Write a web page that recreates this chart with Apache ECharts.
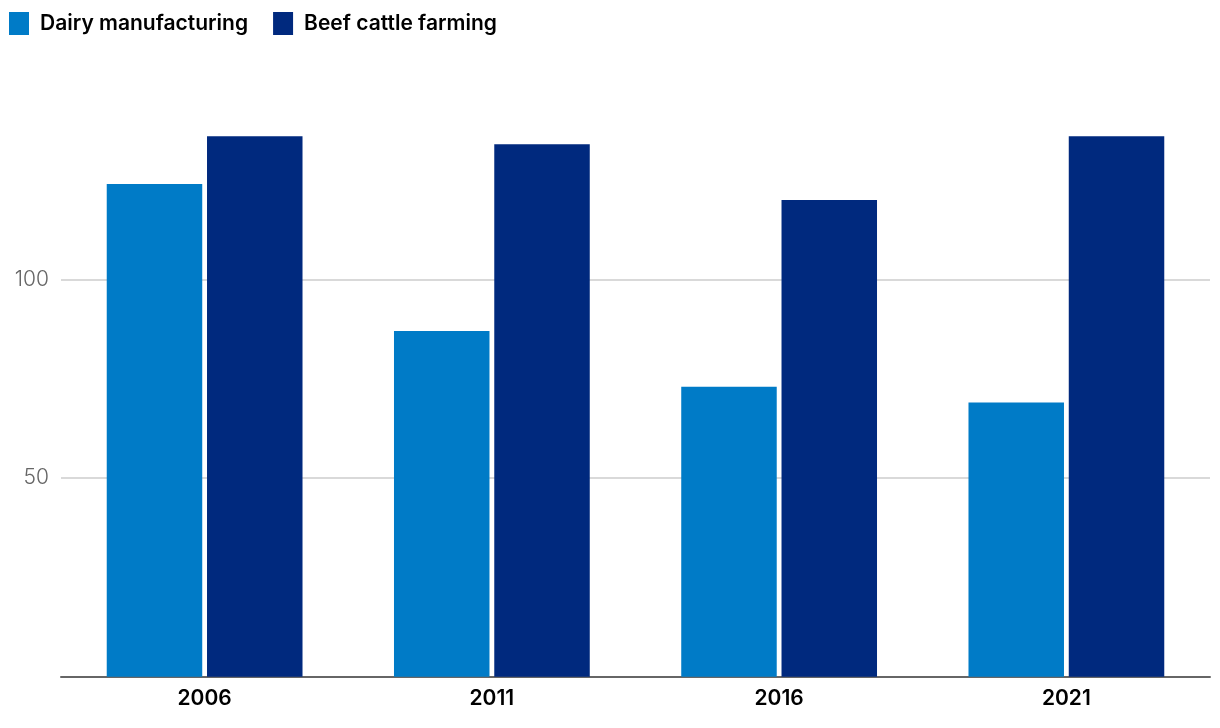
<!DOCTYPE html>
<html>
<head>
<meta charset="utf-8">
<script src="https://cdn.jsdelivr.net/npm/echarts@6/dist/echarts.min.js"></script>
<style>
html,body{margin:0;padding:0;background:#fff;}
#chart{width:1220px;height:728px;}
</style>
</head>
<body>
<div id="chart"></div>
<script>
const categories = ['2006', '2011', '2016', '2021'];
const seriesNames = ['Dairy manufacturing', 'Beef cattle farming'];
const dairyValues = [124, 87, 73, 69];
const beefValues = [136, 134, 120, 136];
const yTicks = [0, 50, 100, 150];

const chart = echarts.init(document.getElementById('chart'));
chart.setOption({
  animation: false,
  textStyle: { fontFamily: 'Inter' },
  legend: {
    left: 9, top: 12, padding: 0,
    itemWidth: 20, itemHeight: 23,
    itemGap: 25,
    icon: 'rect',
    textStyle: { fontFamily: 'Inter', fontSize: 21, fontWeight: 600, color: '#000', padding: [0, 0, 0, 6] },
    data: seriesNames
  },
  grid: { left: 61, right: 10, top: 80.7, bottom: 51.3, containLabel: false },
  xAxis: {
    type: 'category',
    data: categories,
    axisLine: { lineStyle: { color: '#666', width: 2 } },
    axisTick: { show: false },
    axisLabel: { fontFamily: 'Inter', fontSize: 21, fontWeight: 600, color: '#000', margin: 11 }
  },
  yAxis: {
    type: 'value',
    min: yTicks[0], max: yTicks[yTicks.length - 1], interval: 50,
    axisLine: { show: false },
    axisTick: { show: false },
    axisLabel: { showMinLabel: false, showMaxLabel: false, fontFamily: 'Inter', fontSize: 21, fontWeight: 300, color: '#666', margin: 12 },
    splitLine: { showMinLine: false, showMaxLine: false, lineStyle: { color: '#d9d9d9', width: 2 } }
  },
  series: [
    { name: seriesNames[0], type: 'bar', data: dairyValues, barWidth: 95.5, barGap: '5%', itemStyle: { color: '#007bc7' } },
    { name: seriesNames[1], type: 'bar', data: beefValues, barWidth: 95.5, barGap: '5%', itemStyle: { color: '#00297e' } }
  ]
});
</script>
</body>
</html>
